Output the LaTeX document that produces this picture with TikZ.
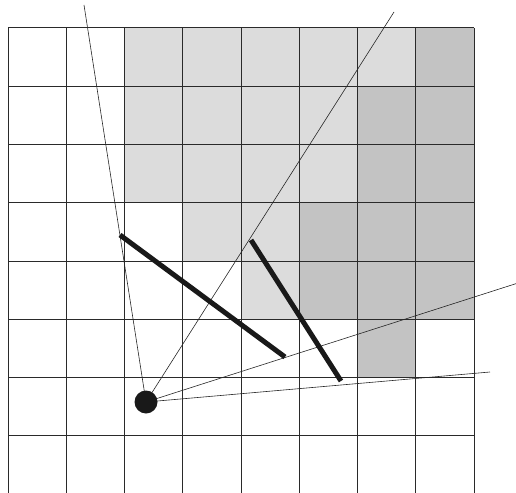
\documentclass[tikz,border=0pt]{standalone}
\usepackage{tikz}
\definecolor{lightcell}{HTML}{DCDCDC}
\definecolor{darkcell}{HTML}{C3C3C3}
\definecolor{gridcol}{HTML}{2A2A2A}
\tikzset{
  gridline/.style={draw=gridcol, line width=1.0pt},
  ray/.style={draw=black!85, line width=0.6pt},
  wall/.style={draw=black!90, line width=5pt},
}
\begin{document}
\begin{tikzpicture}[x=1pt,y=-1pt]
\useasboundingbox (0,0) rectangle (516,492);
\def\cs{58.25}
% light cells: (col,row)
\foreach \c/\r in {2/0,3/0,4/0,5/0,6/0,
                   2/1,3/1,4/1,5/1,
                   2/2,3/2,4/2,5/2,
                   3/3,4/3,
                   4/4}{
  \fill[lightcell] ({8+\c*\cs},{28+\r*\cs}) rectangle ++(\cs,\cs);
}
% dark cells
\foreach \c/\r in {7/0,6/1,7/1,6/2,7/2,5/3,6/3,7/3,5/4,6/4,7/4,6/5}{
  \fill[darkcell] ({8+\c*\cs},{28+\r*\cs}) rectangle ++(\cs,\cs);
}
% grid
\foreach \j in {0,...,7}{
  \draw[gridline] (8,{28+\j*\cs}) -- (474,{28+\j*\cs});
}
\foreach \i in {0,...,8}{
  \draw[gridline] ({8+\i*\cs},28) -- ({8+\i*\cs},493);
}
% viewpoint and rays
\coordinate (eye) at (146,402);
\coordinate (r1) at (84,5);
\coordinate (r2) at (394,12);
\coordinate (r3) at (518,283);
\coordinate (r4) at (490,372);
\draw[ray] (eye) -- (r1);
\draw[ray] (eye) -- (r2);
\draw[ray] (eye) -- (r3);
\draw[ray] (eye) -- (r4);
% walls
\coordinate (a1) at (120,235);
\coordinate (a2) at (285,357);
\coordinate (b1) at (251,240);
\coordinate (b2) at (341,381);
\draw[wall] (a1) -- (a2);
\draw[wall] (b1) -- (b2);
\node[circle, fill=black!90, minimum size=23pt, inner sep=0pt] (dot) at (eye) {};
\end{tikzpicture}
\end{document}
